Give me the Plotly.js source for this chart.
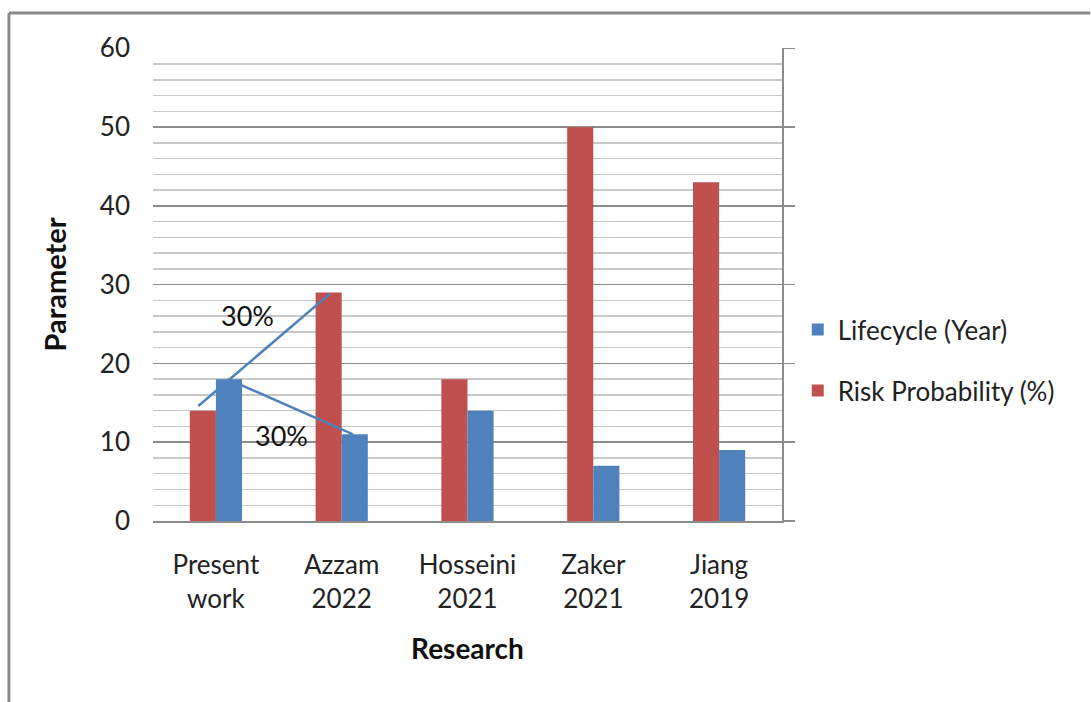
<!DOCTYPE html>
<html>
<head>
<meta charset="utf-8">
<script src="https://cdn.plot.ly/plotly-3.0.1.min.js"></script>
<style>
  html, body { margin: 0; padding: 0; background: #fff; }
  #chart { width: 1091px; height: 702px; }
</style>
</head>
<body>
<div id="chart"></div>
<script>
var categories = ['Present<br>work', 'Azzam<br>2022', 'Hosseini<br>2021', 'Zaker<br>2021', 'Jiang<br>2019'];
var riskValues = [14, 29, 18, 50, 43];
var lifeValues = [18, 11, 14, 7, 9];

var font = 'Lato, Open Sans, sans-serif';

var trace1 = {
  x: categories,
  y: riskValues,
  name: 'Risk Probability (%)',
  type: 'bar',
  legendgroup: 'risk',
  legendrank: 2,
  marker: { color: '#C0504D' },
  hoverinfo: 'none'
};

var trace2 = {
  x: categories,
  y: lifeValues,
  name: 'Lifecycle (Year)',
  type: 'bar',
  legendgroup: 'life',
  legendrank: 1,
  marker: { color: '#4F81BD' },
  hoverinfo: 'none'
};

// empty trace so the right-hand axis gets drawn
var trace3 = {
  x: categories,
  y: [null, null, null, null, null],
  yaxis: 'y2',
  type: 'scatter',
  showlegend: false,
  hoverinfo: 'none'
};

var data = [trace1, trace2, trace3];

var layout = {
  width: 1091,
  height: 702,
  margin: { l: 153, r: 309, t: 48, b: 181 },
  paper_bgcolor: '#fff',
  plot_bgcolor: '#fff',
  font: { family: font, size: 26, color: '#222' },
  barmode: 'group',
  bargap: 0.585,
  bargroupgap: 0,
  xaxis: {
    type: 'category',
    showline: true,
    linecolor: '#8c8c8c',
    linewidth: 2,
    ticks: '',
    ticklabelstandoff: 20,
    tickfont: { size: 26, color: '#222' },
    title: { text: '<b>Research</b>', font: { size: 28, color: '#111' }, standoff: 26 }
  },
  yaxis: {
    range: [0, 60.05],
    dtick: 10,
    showline: false,
    gridcolor: '#8c8c8c',
    gridwidth: 1.5,
    zeroline: false,
    ticks: '',
    ticklabelstandoff: 22,
    tickfont: { size: 26, color: '#222' },
    minor: { dtick: 2, showgrid: true, gridcolor: '#c8c8c8', gridwidth: 1.5 },
    title: { text: '<b>Parameter</b>', font: { size: 29, color: '#111' }, standoff: 24 }
  },
  yaxis2: {
    overlaying: 'y',
    side: 'right',
    range: [0, 60.05],
    dtick: 10,
    showgrid: false,
    zeroline: false,
    showline: true,
    linecolor: '#8c8c8c',
    linewidth: 2,
    ticks: 'outside',
    ticklen: 11,
    tickwidth: 1.5,
    tickcolor: '#8c8c8c',
    showticklabels: false
  },
  legend: {
    x: 1.025,
    y: 0.34,
    yanchor: 'middle',
    traceorder: 'grouped',
    tracegroupgap: 24,
    font: { size: 26, color: '#222' },
    itemwidth: 30
  },
  shapes: [
    { type: 'line', xref: 'x', yref: 'y', x0: -0.14, y0: 14.6, x1: 0.91, y1: 28.9,
      line: { color: '#4F81BD', width: 2.5 } },
    { type: 'line', xref: 'x', yref: 'y', x0: 0.095, y0: 18, x1: 1.09, y1: 11,
      line: { color: '#4F81BD', width: 2.5 } },
    { type: 'line', xref: 'paper', yref: 'paper', x0: -0.229, y0: 1.074, x1: 1.49, y1: 1.074,
      line: { color: '#8a8a8a', width: 3 } },
    { type: 'line', xref: 'paper', yref: 'paper', x0: -0.229, y0: 1.074, x1: -0.229, y1: -0.4,
      line: { color: '#8a8a8a', width: 3 } }
  ],
  annotations: [
    { xref: 'x', yref: 'y', x: 0.25, y: 26.1, text: '30%', showarrow: false,
      font: { size: 27, color: '#111' } },
    { xref: 'x', yref: 'y', x: 0.52, y: 10.9, text: '30%', showarrow: false,
      font: { size: 27, color: '#111' } }
  ]
};

Plotly.newPlot('chart', data, layout, { displayModeBar: false, staticPlot: true });
</script>
</body>
</html>
